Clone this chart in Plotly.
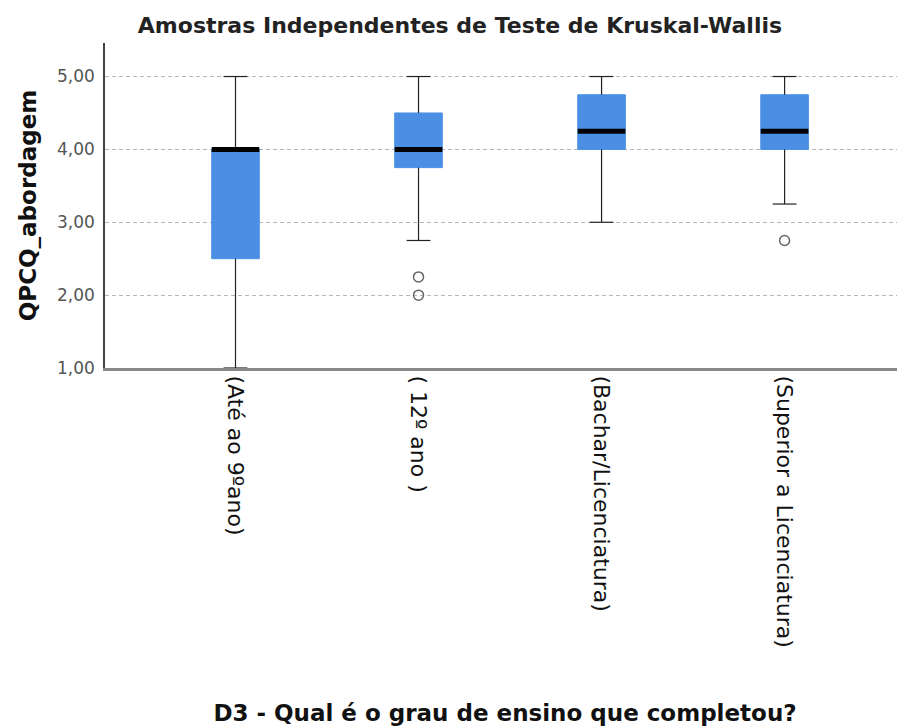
import plotly.graph_objects as go

categories = ["(Até ao 9ºano)", "( 12º ano )", "(Bachar/Licenciatura)", "(Superior a Licenciatura)"]
q1 = [2.5, 3.75, 4.0, 4.0]
median = [4.0, 4.0, 4.25, 4.25]
q3 = [4.0, 4.5, 4.75, 4.75]
lower_whisker = [1.0, 2.75, 3.0, 3.25]
upper_whisker = [5.0, 5.0, 5.0, 5.0]
outlier_group = [1, 1, 3]
outlier_value = [2.25, 2.0, 2.75]
y_ticks = [1, 2, 3, 4, 5]
y_tick_labels = ["1,00", "2,00", "3,00", "4,00", "5,00"]

pos = list(range(len(categories)))
BOX_W = 0.26
CAP_W = 0.065
MED_W = BOX_W / 2
BLUE = "#4a8fe4"
FONT = "DejaVu Sans, Liberation Sans, Arial, sans-serif"

fig = go.Figure()
fig.add_trace(go.Box(
    x=pos, q1=q1, median=median, q3=q3,
    lowerfence=lower_whisker, upperfence=upper_whisker,
    fillcolor=BLUE, line=dict(color=BLUE, width=1), width=BOX_W,
    whiskerwidth=0, boxpoints=False, showlegend=False, hoverinfo="skip"))

# whiskers
wx, wy = [], []
for i in pos:
    wx += [i, i, None, i, i, None,
           i - CAP_W, i + CAP_W, None, i - CAP_W, i + CAP_W, None]
    wy += [q3[i], upper_whisker[i], None, q1[i], lower_whisker[i], None,
           upper_whisker[i], upper_whisker[i], None, lower_whisker[i], lower_whisker[i], None]
fig.add_trace(go.Scatter(x=wx, y=wy, mode="lines", line=dict(color="#222", width=1.2),
                         showlegend=False, hoverinfo="skip"))

# medians
mx, my = [], []
for i in pos:
    mx += [i - MED_W, i + MED_W, None]
    my += [median[i], median[i], None]
fig.add_trace(go.Scatter(x=mx, y=my, mode="lines", line=dict(color="black", width=5),
                         showlegend=False, hoverinfo="skip"))

# outliers
fig.add_trace(go.Scatter(x=outlier_group, y=outlier_value, mode="markers",
                         marker=dict(symbol="circle-open", size=10, color="#666",
                                     line=dict(width=1.5, color="#666")),
                         showlegend=False, hoverinfo="skip"))

fig.update_layout(
    width=905, height=726,
    margin=dict(l=97, r=8, t=35, b=366),
    paper_bgcolor="white", plot_bgcolor="white",
    font=dict(family=FONT, color="#111"),
    title=dict(text="Amostras Independentes de Teste de Kruskal-Wallis",
               font=dict(size=22, weight="bold", color="#222"),
               x=0.4994, xanchor="center", y=0.9766, yanchor="middle"),
    xaxis=dict(range=[-0.713, 3.658], tickmode="array", tickvals=pos, ticktext=categories,
               tickangle=90, tickfont=dict(size=22, color="#111"),
               showgrid=False, zeroline=False, showline=True, linecolor="#888", linewidth=3,
               ticks="", automargin=False,
               title=dict(text="D3 - Qual é o grau de ensino que completou?",
                          font=dict(size=23, weight="bold", color="#111"), standoff=59)),
    yaxis=dict(range=[1, 5.46], tickmode="array", tickvals=y_ticks, ticktext=y_tick_labels,
               tickfont=dict(size=17, color="#555"), ticklabelstandoff=5,
               showgrid=True, gridcolor="#b5b5b5", griddash="4px,3px", gridwidth=1,
               zeroline=False, showline=True, linecolor="#444", linewidth=1.5, ticks="",
               automargin=False,
               title=dict(text="QPCQ_abordagem", font=dict(size=23, weight="bold", color="#111"),
                          standoff=14)),
)

fig.write_html("out.html")
